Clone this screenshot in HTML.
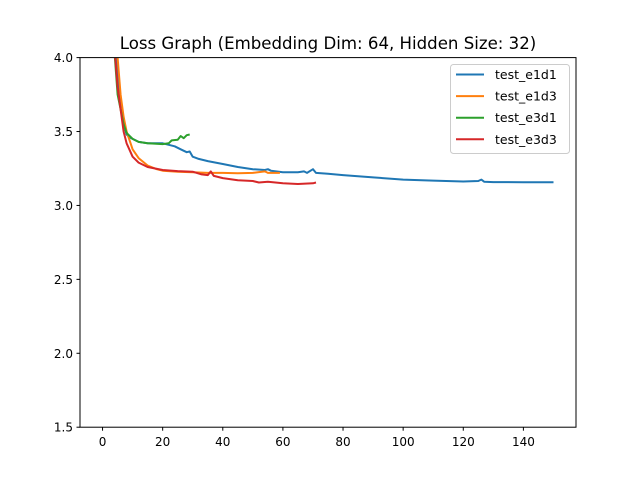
<!DOCTYPE html>
<html><head><meta charset="utf-8"><style>body{margin:0;background:#fff}svg{font-family:"DejaVu Sans","Liberation Sans",sans-serif}</style></head>
<body>
<svg id="c" width="640" height="480">
<defs><clipPath id="clip"><rect x="80" y="57.6" width="496" height="369.6"/></clipPath></defs>
<text x="328" y="49" text-anchor="middle" font-size="16.6">Loss Graph (Embedding Dim: 64, Hidden Size: 32)</text>
<g id="series" clip-path="url(#clip)"></g>
<rect x="80" y="57.6" width="496" height="369.6" fill="none" stroke="#000" stroke-width="1"/>
<g id="axes" font-size="12"></g>
<g id="legend"></g>
</svg>
<script>
const xTicks=[0,20,40,60,80,100,120,140];
const yTicks=[1.5,2.0,2.5,3.0,3.5,4.0];
const seriesNames=["test_e1d1","test_e1d3","test_e3d1","test_e3d3"];
const seriesColors=["#1f77b4","#ff7f0e","#2ca02c","#d62728"];
const e1d1X=[0,2,4,5,6,7,8,9,10,12,15,20,22,24,26,28,29,30,32,35,40,45,50,54,55,56,60,65,67,68,70,71,75,80,90,100,110,120,125,126,127,130,140,150];
const e1d1Y=[6,5,4.2,3.9,3.7,3.55,3.48,3.46,3.45,3.43,3.42,3.42,3.41,3.4,3.38,3.36,3.365,3.33,3.315,3.3,3.28,3.26,3.245,3.24,3.245,3.235,3.225,3.225,3.23,3.22,3.245,3.22,3.215,3.205,3.19,3.175,3.168,3.162,3.165,3.175,3.16,3.158,3.157,3.157];
const e1d3X=[0,3,5,6,7,8,10,12,15,18,20,25,30,35,40,45,50,54,55,59];
const e1d3Y=[7,4.6,4.0,3.75,3.6,3.5,3.38,3.32,3.27,3.245,3.235,3.228,3.225,3.22,3.22,3.218,3.22,3.23,3.22,3.22];
const e3d1X=[0,3,5,7,8,10,12,15,20,22,23,25,26,27,28,29];
const e3d1Y=[6,4.3,3.75,3.55,3.49,3.45,3.43,3.42,3.415,3.42,3.44,3.445,3.47,3.455,3.475,3.48];
const e3d3X=[0,3,5,7,8,10,12,15,20,25,30,33,35,36,37,40,45,50,52,55,60,65,70,71];
const e3d3Y=[6,4.3,3.8,3.5,3.42,3.33,3.29,3.26,3.24,3.232,3.228,3.21,3.205,3.23,3.2,3.185,3.17,3.165,3.155,3.16,3.15,3.145,3.15,3.155];
const NS="http://www.w3.org/2000/svg";
const xs=v=>80+(v+7.5)*496/165;
const ys=v=>57.6+(4-v)*369.6/2.5;
const sg=document.getElementById('series'),ag=document.getElementById('axes'),lg=document.getElementById('legend');
function mk(t,a,p){const e=document.createElementNS(NS,t);for(const k in a)e.setAttribute(k,a[k]);p.appendChild(e);return e;}
const data=[[e1d1X,e1d1Y],[e1d3X,e1d3Y],[e3d1X,e3d1Y],[e3d3X,e3d3Y]];
data.forEach((d,i)=>{const p=mk('polyline',{points:d[0].map((x,j)=>xs(x).toFixed(1)+','+ys(d[1][j]).toFixed(1)).join(' '),fill:'none',stroke:seriesColors[i],'stroke-width':2,'stroke-linejoin':'round'},sg);

});
xTicks.forEach(t=>{const x=xs(t);const l=mk('line',{x1:x,x2:x,y1:427.2,y2:430.7,stroke:'#000'},ag);


const tx=mk('text',{x:x,y:446,'text-anchor':'middle'},ag);tx.textContent=t;

});
yTicks.forEach(t=>{const y=ys(t);const l=mk('line',{x1:76.5,x2:80,y1:y,y2:y,stroke:'#000'},ag);


const tx=mk('text',{x:73,y:y+4.5,'text-anchor':'end'},ag);tx.textContent=t.toFixed(1);

});
const box=mk('rect',{x:450.5,y:64.5,width:119,height:89,rx:3,fill:'#fff','fill-opacity':0.8,stroke:'#ccc'},lg);


seriesNames.forEach((n,i)=>{const y=74.5+i*21.6;const l=mk('line',{x1:456,x2:484,y1:y,y2:y,stroke:seriesColors[i],'stroke-width':2},lg);


const t=mk('text',{x:495,y:y+4.5,'font-size':12.5},lg);t.textContent=n;

});
</script>
</body></html>
